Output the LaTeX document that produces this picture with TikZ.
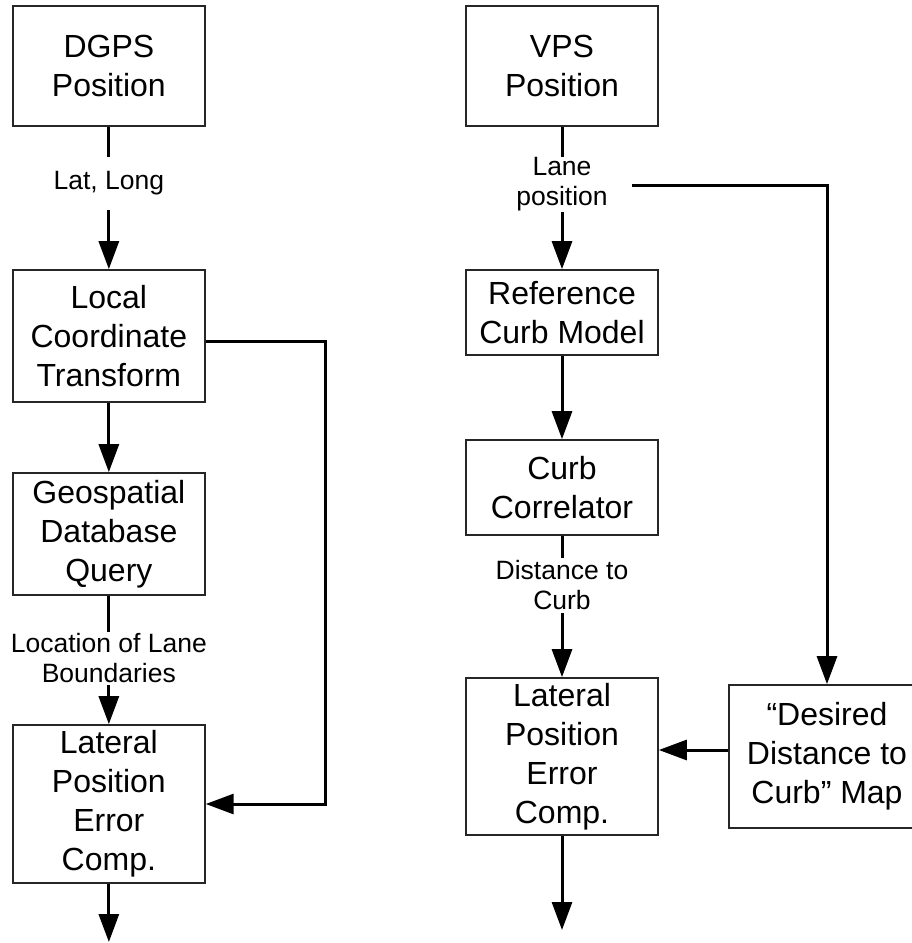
\documentclass[tikz,border=0pt]{standalone}
\usepackage{fontspec}
\setmainfont{Liberation Sans}
\usetikzlibrary{arrows.meta}
\begin{document}
\begin{tikzpicture}[x=1pt,y=-1pt,
  block/.style={draw=black!85, line width=1.7pt, align=center, inner sep=0pt,
    font=\fontsize{32}{39}\selectfont},
  flowlabel/.style={align=center, inner sep=0pt,
    font=\fontsize{26.5}{30}\selectfont},
  link/.style={line width=3pt},
  arr/.style={line width=3pt, -{Triangle[length=28pt,width=20pt]}}]
\useasboundingbox (0,0) rectangle (911,943);
% left chain
\node[block, minimum width=192pt, minimum height=120pt] (dgps) at (108.85,66) {DGPS\\Position};
\node[flowlabel, minimum height=53pt] (latlong) at (108.85,183.5) {Lat, Long};
\node[block, minimum width=192pt, minimum height=132pt] (lct) at (108.85,336) {Local\\Coordinate\\Transform};
\node[block, minimum width=192pt, minimum height=122pt] (geo) at (108.85,534) {Geospatial\\Database\\Query};
\node[flowlabel, minimum height=53pt] (bounds) at (108.85,658.5) {Location of Lane\\Boundaries};
\node[block, minimum width=192pt, minimum height=158pt] (latl) at (108.85,804) {Lateral\\Position\\Error\\Comp.};
\coordinate (outl) at (108.85,942);
\coordinate (turnl) at (325,341.7);
% right chain
\node[block, minimum width=192pt, minimum height=120pt] (vps) at (562,66) {VPS\\Position};
\node[flowlabel, minimum height=55pt] (lanepos) at (562,184.5) {Lane\\position};
\node[block, minimum width=192pt, minimum height=85pt] (ref) at (562,312.5) {Reference\\Curb Model};
\node[block, minimum width=192pt, minimum height=95pt] (cor) at (562,487.5) {Curb\\Correlator};
\node[flowlabel, minimum height=55pt] (dist) at (562,585.5) {Distance to\\Curb};
\node[block, minimum width=192pt, minimum height=157pt] (latr) at (562,756.5) {Lateral\\Position\\Error\\Comp.};
\node[block, minimum width=196pt, minimum height=143pt] (des) at (827,756.5) {“Desired\\Distance to\\Curb” Map};
\coordinate (outr) at (562,930);
\coordinate (branch) at (632,185.7);
% left connectors
\draw[link] (dgps.south) -- (latlong.north);
\draw[arr] (latlong.south) -- (lct.north);
\draw[arr] (lct.south) -- (geo.north);
\draw[link] (geo.south) -- (bounds.north);
\draw[arr] (bounds.south) -- (latl.north);
\draw[arr] (latl.south) -- (outl);
\draw[arr] (lct.east |- turnl) -- (turnl) |- (latl.east);
% right connectors
\draw[link] (vps.south) -- (lanepos.north);
\draw[arr] (lanepos.south) -- (ref.north);
\draw[arr] (ref.south) -- (cor.north);
\draw[link] (cor.south) -- (dist.north);
\draw[arr] (dist.south) -- (latr.north);
\draw[arr] (latr.south) -- (outr);
\draw[arr] (branch) -| (des.north);
\draw[arr] ([yshift=6.5pt]des.west) -- ([yshift=6.5pt]des.west -| latr.east);
\end{tikzpicture}
\end{document}
